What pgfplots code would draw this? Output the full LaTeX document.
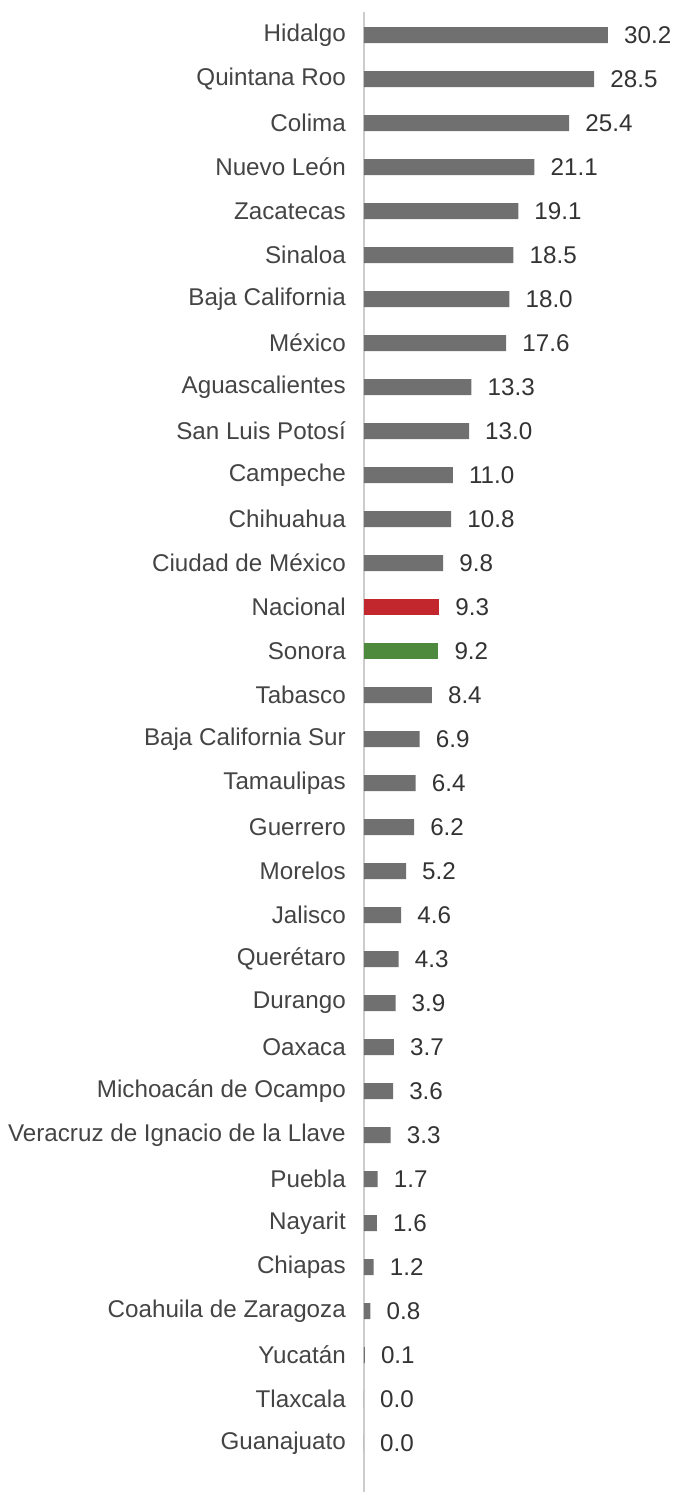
\documentclass[border=0pt]{standalone}
\usepackage{pgfplots}
\pgfplotsset{compat=1.18}
\usepackage{fontspec}
\setmainfont{Liberation Sans}
\definecolor{bargray}{HTML}{707070}
\definecolor{barred}{HTML}{C1272D}
\definecolor{bargreen}{HTML}{4E8A3E}
\definecolor{labelgray}{HTML}{444444}
\definecolor{valgray}{HTML}{333333}
\definecolor{axisgray}{HTML}{CCCCCC}
\begin{document}
\begin{tikzpicture}
\begin{axis}[
    scale only axis,
    width=311bp,
    height=1480bp,
    xbar,
    bar width=16bp,
    bar shift=0pt,
    xmin=0, xmax=38.5,
    ymin=-0.523, ymax=33.11,
    y dir=reverse,
    axis x line=none,
    axis y line*=left,
    y axis line style={draw=axisgray, line width=1.1bp},
    major tick length=0pt,
    ytick={0,...,32},
    yticklabels={Hidalgo,Quintana Roo,Colima,Nuevo León,Zacatecas,Sinaloa,Baja California,México,Aguascalientes,San Luis Potosí,Campeche,Chihuahua,Ciudad de México,Nacional,Sonora,Tabasco,Baja California Sur,Tamaulipas,Guerrero,Morelos,Jalisco,Querétaro,Durango,Oaxaca,Michoacán de Ocampo,Veracruz de Ignacio de la Llave,Puebla,Nayarit,Chiapas,Coahuila de Zaragoza,Yucatán,Tlaxcala,Guanajuato},
    yticklabel style={font=\fontsize{24.2bp}{28bp}\selectfont, text=labelgray, inner sep=0pt, xshift=-18bp},
    nodes near coords,
    nodes near coords style={font=\fontsize{24.2bp}{28bp}\selectfont, text=valgray, anchor=west, inner sep=0pt, xshift=16bp,
        /pgf/number format/assume math mode=true,
        /pgf/number format/fixed, /pgf/number format/fixed zerofill, /pgf/number format/precision=1},
    clip=false,
]
\addplot[fill=bargray, draw=none] coordinates {
    (30.2,0) (28.5,1) (25.4,2) (21.1,3) (19.1,4) (18.5,5) (18.0,6) (17.6,7)
    (13.3,8) (13.0,9) (11.0,10) (10.8,11) (9.8,12)
    (8.4,15) (6.9,16) (6.4,17) (6.2,18) (5.2,19) (4.6,20) (4.3,21) (3.9,22)
    (3.7,23) (3.6,24) (3.3,25) (1.7,26) (1.6,27) (1.2,28) (0.8,29) (0.1,30)
    (0.0,31) (0.0,32)
};
\addplot[fill=barred, draw=none] coordinates {(9.3,13)};
\addplot[fill=bargreen, draw=none] coordinates {(9.2,14)};
\end{axis}
\pgfresetboundingbox
\path[use as bounding box] (-364bp,0) rectangle (311bp,1492bp);
\end{tikzpicture}
\end{document}
